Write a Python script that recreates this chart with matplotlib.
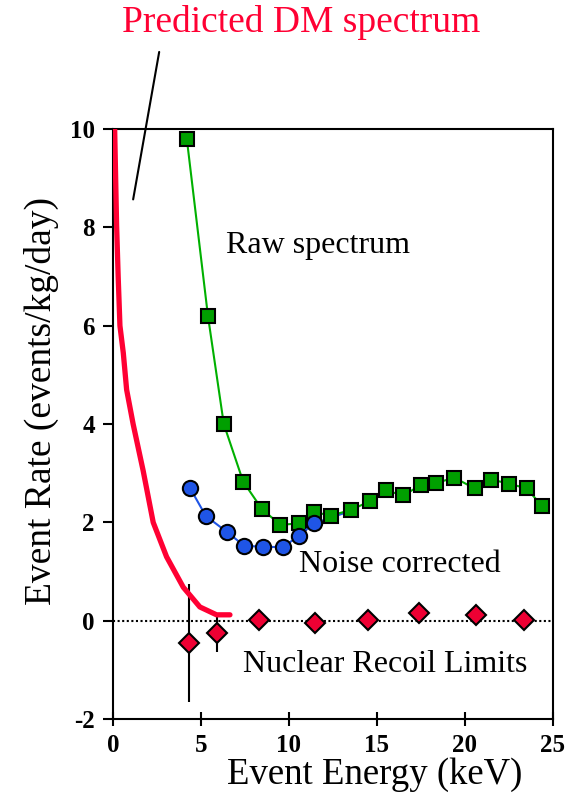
import matplotlib
matplotlib.use('Agg')
import matplotlib.pyplot as plt

plt.rcParams['font.family'] = ['Liberation Serif', 'DejaVu Serif']

# Raw spectrum (green squares)
raw_x = [4.2, 5.4, 6.3, 7.4, 8.45, 9.5, 10.6, 11.4, 12.4, 13.5, 14.6, 15.5, 16.5,
         17.5, 18.35, 19.4, 20.55, 21.5, 22.5, 23.5, 24.4]
raw_y = [9.8, 6.2, 4.0, 2.83, 2.28, 1.95, 1.98, 2.21, 2.14, 2.25, 2.43, 2.65, 2.55,
         2.76, 2.8, 2.91, 2.69, 2.87, 2.79, 2.69, 2.33]

# Noise corrected (blue circles), line runs on into the raw curve
nc_x = [4.38, 5.28, 6.5, 7.44, 8.5, 9.68, 10.57, 11.42]
nc_y = [2.7, 2.13, 1.8, 1.53, 1.5, 1.5, 1.73, 1.98]
nc_tail_x = [11.42, 13.4]
nc_tail_y = [1.98, 2.22]

# Nuclear recoil limits (red diamonds) with error bars
nr_x = [4.3, 5.9, 8.3, 11.5, 14.5, 17.4, 20.6, 23.35]
nr_y = [-0.45, -0.24, 0.02, -0.05, 0.01, 0.16, 0.12, 0.01]
nr_err_lo = [1.2, 0.39, 0, 0, 0, 0, 0, 0]
nr_err_hi = [1.2, 0.32, 0, 0, 0, 0, 0, 0]

# Predicted DM spectrum (red curve)
dm_x = [0.1, 0.21, 0.3, 0.4, 0.59, 0.78, 1.15, 1.72, 2.29, 3.05, 4.0, 4.94, 5.89, 6.65]
dm_y = [10.0, 8.05, 7.0, 6.0, 5.45, 4.7, 4.0, 3.05, 2.0, 1.3, 0.68, 0.28, 0.12, 0.12]

fig = plt.figure(figsize=(5.76, 8.07), dpi=100)
ax = fig.add_axes([0.196, 0.109, 0.764, 0.731])

ax.axhline(0, color='black', linestyle=(0, (1, 1.2)), linewidth=1.5, zorder=1)

ax.errorbar(nr_x, nr_y, yerr=[nr_err_lo, nr_err_hi], fmt='none', ecolor='black',
            elinewidth=1.5, capsize=0, zorder=2)
ax.plot(dm_x, dm_y, color='#ff0033', linewidth=3.8, solid_capstyle='round',
        solid_joinstyle='round', zorder=3)

ax.plot(nc_tail_x, nc_tail_y, color='#1f55e6', linewidth=1.5, zorder=2)
ax.plot(raw_x, raw_y, color='#00b000', linewidth=1.5, marker='s', markersize=10,
        markerfacecolor='#009f00', markeredgecolor='black', markeredgewidth=1.5, zorder=3)
ax.plot(nc_x, nc_y, color='#1f55e6', linewidth=1.5, marker='o', markersize=11,
        markerfacecolor='#1f55e6', markeredgecolor='black', markeredgewidth=1.5, zorder=4)

ax.plot(nr_x, nr_y, linestyle='none', marker='D', markersize=10,
        markerfacecolor='#ee0033', markeredgecolor='black', markeredgewidth=1.5, zorder=5)

ax.set_xlim(0, 25)
ax.set_ylim(-2, 10)
ax.set_xticks([0, 5, 10, 15, 20, 25])
ax.set_yticks([-2, 0, 2, 4, 6, 8, 10])
ax.set_yticklabels(['-2', '0', '2', '4', '6', '8', '10'])
ax.tick_params(axis='x', direction='inout', length=10, width=1.5, labelsize=18, pad=6)
ax.tick_params(axis='y', direction='out', length=7, width=1.5, labelsize=18, pad=6)
for lab in ax.get_xticklabels() + ax.get_yticklabels():
    lab.set_fontweight('bold')
for s in ax.spines.values():
    s.set_linewidth(1.5)

ax.set_xlabel('Event Energy (keV)', fontsize=26.5, labelpad=0, x=0.595)
ax.set_ylabel('Event Rate (events/kg/day)', fontsize=27, labelpad=8, y=0.539)

ax.text(6.42, 7.49, 'Raw spectrum', fontsize=23, va='baseline')
ax.text(10.6, 1.0, 'Noise corrected', fontsize=23, va='baseline')
ax.text(7.37, -1.05, 'Nuclear Recoil Limits', fontsize=23, va='baseline')

ax.annotate('', xy=(1.15, 8.57), xytext=(2.63, 11.57), annotation_clip=False,
            arrowprops=dict(arrowstyle='-', color='black', linewidth=1.5,
                            shrinkA=0, shrinkB=0))
fig.text(0.523, 0.972, 'Predicted DM spectrum', color='#ff0033', fontsize=27,
         ha='center', va='center')

fig.savefig('out.png', dpi=100)
